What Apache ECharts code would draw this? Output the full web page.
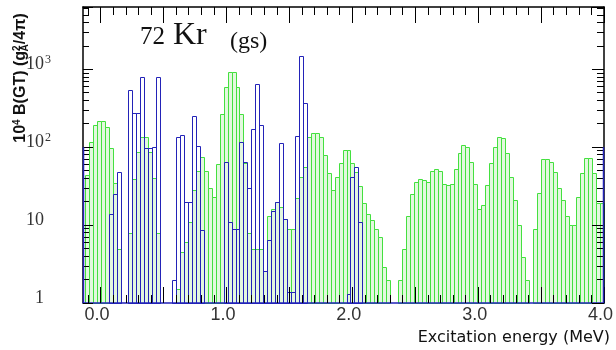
<!DOCTYPE html>
<html>
<head>
<meta charset="utf-8">
<script src="https://cdn.jsdelivr.net/npm/echarts@6/dist/echarts.min.js"></script>
<style>
html, body { margin: 0; padding: 0; background: #fff; }
#chart { width: 616px; height: 350px; }
</style>
</head>
<body>
<div id="chart"></div>
<script>
// Energy binning shared by both strength histograms (MeV)
const binStart = -0.125;
const binWidth = 0.0315;

// 10^4 B(GT) per bin, green histogram
const greenStrength = [
  44, 115, 190, 220, 220, 180, 97, 35, 5, 0,
  0, 8, 39, 86, 134, 134, 86, 40, 8, 0,
  0, 0, 0, 1.5, 4.5, 6, 11, 28, 50, 75,
  50, 30, 23, 60, 270, 590, 910, 910, 590, 270,
  62, 8, 5, 5, 5, 2.6, 13, 16, 20, 17,
  12, 9, 9, 22, 42, 55, 134, 150, 150, 134,
  79, 46, 28, 41, 62, 91, 91, 62, 48, 32,
  19, 14, 11.6, 9, 7, 2.9, 2, 0, 0, 2,
  5, 13, 25, 36, 39, 38, 36, 50, 53, 50,
  34, 33, 34, 53, 83, 108, 100, 64, 34, 16,
  18, 33, 63, 100, 135, 130, 83, 41, 21, 10,
  3.9, 2, 0, 9, 26, 70, 70, 64, 48, 30,
  21, 13, 10, 10, 23, 46, 72, 72, 46, 19,
  19
];

// 10^4 B(GT) per bin, blue histogram
const blueStrength = [
  0, 0, 0, 0, 0, 0, 14, 25, 48, 0,
  0, 540, 273, 273, 795, 97, 97, 100, 795, 0,
  0, 0, 2, 137, 145, 20, 20, 250, 105, 8.6,
  0, 0, 0, 0, 0, 64, 11, 9, 9, 115,
  64, 30, 170, 640, 190, 2.6, 6.4, 15, 20, 112,
  12, 1.4, 1.4, 140, 1470, 365, 0, 0, 0, 0,
  0, 0, 0, 0, 0, 0, 1.3, 41, 55, 11,
  0, 0, 0, 0, 0, 0, 0, 0, 0, 0,
  0, 0, 0, 0, 0, 0, 0, 0, 0, 0,
  0, 0, 0, 0, 0, 0, 0, 0, 0, 0,
  0, 0, 0, 0, 0, 0, 0, 0, 0, 0,
  0, 0, 0, 0, 0, 0, 0, 0, 0, 0,
  0, 0, 0, 0, 0, 0, 0, 0, 0, 0,
  0
];

// Axis ranges and ticks
const xRange = [-0.14, 4.0];
const yRange = [1, 6300];
const xLabelValues = [0, 1, 2, 3, 4];
const xMajorTicks = [0, 0.5, 1, 1.5, 2, 2.5, 3, 3.5, 4];
const xMinorTicks = [-0.1, 0.1, 0.2, 0.3, 0.4, 0.6, 0.7, 0.8, 0.9, 1.1, 1.2, 1.3, 1.4,
  1.6, 1.7, 1.8, 1.9, 2.1, 2.2, 2.3, 2.4, 2.6, 2.7, 2.8, 2.9, 3.1, 3.2, 3.3, 3.4,
  3.6, 3.7, 3.8, 3.9];
const yLabelValues = [1, 10, 100, 1000];
const yLabelText = ['{r|1}', '{r|10}', '10{s|2}', '10{s|3}'];
// Blue histogram frame height at the plot edges
const blueFrameTop = 100;

const blueColor = '#2323b8';

function toBins(values) {
  const out = [];
  values.forEach(function (v, k) {
    if (v > 0) out.push([binStart + k * binWidth, binStart + (k + 1) * binWidth, v]);
  });
  return out;
}

function binRenderer(fill, stroke) {
  return function (params, api) {
    const cs = params.coordSys;
    const a = api.coord([api.value(0), api.value(2)]);
    const b = api.coord([api.value(1), yRange[0]]);
    let x0 = Math.max(cs.x, a[0]);
    let x1 = Math.min(cs.x + cs.width, b[0]);
    if (x1 <= x0) return null;
    x0 = Math.round(x0) + 0.5;
    x1 = Math.round(x1) + 0.5;
    const y0 = Math.round(Math.max(cs.y, a[1])) + 0.5;
    const y1 = Math.round(b[1]) + 0.5;
    return {
      type: 'rect',
      shape: { x: x0, y: y0, width: x1 - x0, height: y1 - y0 },
      style: { fill: fill, stroke: stroke, lineWidth: 1 }
    };
  };
}

function frameRenderer(params, api) {
  const a = api.coord([api.value(0), api.value(1)]);
  const b = api.coord([api.value(0), yRange[0]]);
  const x = Math.round(a[0]) + (api.value(0) === xRange[0] ? 0.5 : -0.5);
  return {
    type: 'line',
    shape: { x1: x, y1: a[1], x2: x, y2: b[1] },
    style: { stroke: blueColor, lineWidth: 1.5 }
  };
}

const chart = echarts.init(document.getElementById('chart'), null, { renderer: 'canvas' });

const tickColor = '#000';
const xAxisBase = {
  type: 'value', min: xRange[0], max: xRange[1], gridIndex: 0, z: 10,
  splitLine: { show: false }
};

chart.setOption({
  animation: false,
  backgroundColor: '#fff',
  grid: { left: 83, top: 7, width: 526, height: 296, containLabel: false },
  xAxis: [
    Object.assign({}, xAxisBase, {
      position: 'bottom',
      axisLine: { show: true, onZero: false, lineStyle: { color: blueColor, width: 1.5 } },
      axisTick: { show: true, inside: true, length: 16, customValues: xMajorTicks, lineStyle: { color: tickColor } },
      axisLabel: {
        show: true, customValues: xLabelValues, margin: 3,
        formatter: function (v) { return v.toFixed(1); },
        fontFamily: 'Liberation Sans', fontSize: 18, color: '#333',
        padding: [0, 7, 0, 0]
      }
    }),
    Object.assign({}, xAxisBase, {
      position: 'bottom',
      axisLine: { show: false, onZero: false },
      axisTick: { show: true, inside: true, length: 8, customValues: xMinorTicks, lineStyle: { color: tickColor } },
      axisLabel: { show: false }
    }),
    Object.assign({}, xAxisBase, {
      position: 'top',
      axisLine: { show: true, onZero: false, lineStyle: { color: '#000', width: 1.5 } },
      axisTick: { show: true, inside: true, length: 16, customValues: xMajorTicks, lineStyle: { color: tickColor } },
      axisLabel: { show: false }
    }),
    Object.assign({}, xAxisBase, {
      position: 'top',
      axisLine: { show: false, onZero: false },
      axisTick: { show: true, inside: true, length: 8, customValues: xMinorTicks, lineStyle: { color: tickColor } },
      axisLabel: { show: false }
    })
  ],
  yAxis: [
    {
      type: 'log', logBase: 10, min: yRange[0], max: yRange[1], position: 'left', z: 10,
      axisLine: { show: true, onZero: false, lineStyle: { color: '#000', width: 1.5 } },
      axisTick: { show: true, inside: true, length: 10, lineStyle: { color: tickColor } },
      minorTick: { show: true, splitNumber: 9, length: 6, lineStyle: { color: tickColor } },
      splitLine: { show: false },
      axisLabel: {
        show: true, margin: 32,
        formatter: function (v) {
          const i = yLabelValues.indexOf(Math.round(v));
          return (i >= 0 && Math.abs(v - yLabelValues[i]) < 1e-6) ? yLabelText[i] : '';
        },
        fontFamily: 'Liberation Serif', fontSize: 18, color: '#333',
        padding: [0, 0, 10, 0],
        rich: {
          r: { fontFamily: 'Liberation Serif', fontSize: 18, color: '#333', padding: [0, 7, 0, 0] },
          s: { fontFamily: 'Liberation Serif', fontSize: 12, color: '#333', verticalAlign: 'top', padding: [0, 0, 8, 1] }
        }
      }
    },
    {
      type: 'log', logBase: 10, min: yRange[0], max: yRange[1], position: 'right', z: 10,
      axisLine: { show: true, onZero: false, lineStyle: { color: '#000', width: 1.5 } },
      axisTick: { show: true, inside: true, length: 12, lineStyle: { color: tickColor } },
      minorTick: { show: true, splitNumber: 9, length: 7, lineStyle: { color: tickColor } },
      splitLine: { show: false },
      axisLabel: { show: false }
    }
  ],
  series: [
    {
      type: 'custom', name: 'green', xAxisIndex: 0, yAxisIndex: 0, z: 2,
      renderItem: binRenderer('#e3f8df', '#44e03f'),
      data: toBins(greenStrength), encode: { x: [0, 1], y: 2 }
    },
    {
      type: 'custom', name: 'blue', xAxisIndex: 0, yAxisIndex: 0, z: 3,
      renderItem: binRenderer('none', blueColor),
      data: toBins(blueStrength), encode: { x: [0, 1], y: 2 }
    },
    {
      type: 'custom', name: 'blueFrame', xAxisIndex: 0, yAxisIndex: 0, z: 11,
      renderItem: frameRenderer,
      data: [[xRange[0], blueFrameTop], [xRange[1], blueFrameTop]], encode: { x: 0, y: 1 }
    }
  ],
  graphic: [
    {
      type: 'text', x: 21, y: 78, rotation: Math.PI / 2, z: 20,
      style: {
        text: '10{s|4} B(GT) (g{s|2}{u|A}/4\u03c0)',
        fontFamily: 'Liberation Sans', fontWeight: 'bold', fontSize: 16, fill: '#111',
        align: 'center', verticalAlign: 'middle',
        rich: {
          s: { fontFamily: 'Liberation Sans', fontWeight: 'bold', fontSize: 10, fill: '#111', verticalAlign: 'top', padding: [0, 0, 8, 0] },
          u: { fontFamily: 'Liberation Sans', fontWeight: 'bold', fontSize: 10, fill: '#111', verticalAlign: 'bottom', padding: [6, 0, 0, -6] }
        }
      }
    },
    {
      type: 'text', x: 140, y: 37, z: 20,
      style: { text: '72', fontFamily: 'Liberation Serif', fontSize: 25, fill: '#111', align: 'left', verticalAlign: 'middle' }
    },
    {
      type: 'text', x: 173, y: 36, z: 20,
      style: { text: 'Kr', fontFamily: 'Liberation Serif', fontSize: 32, fill: '#111', align: 'left', verticalAlign: 'middle' }
    },
    {
      type: 'text', x: 230, y: 42, z: 20,
      style: { text: '(gs)', fontFamily: 'Liberation Serif', fontSize: 24, fill: '#111', align: 'left', verticalAlign: 'middle' }
    },
    {
      type: 'text', x: 610, y: 338, z: 20,
      style: { text: 'Excitation energy (MeV)', fontFamily: 'DejaVu Sans', fontSize: 16, fill: '#111', align: 'right', verticalAlign: 'middle' }
    }
  ]
});
</script>
</body>
</html>
